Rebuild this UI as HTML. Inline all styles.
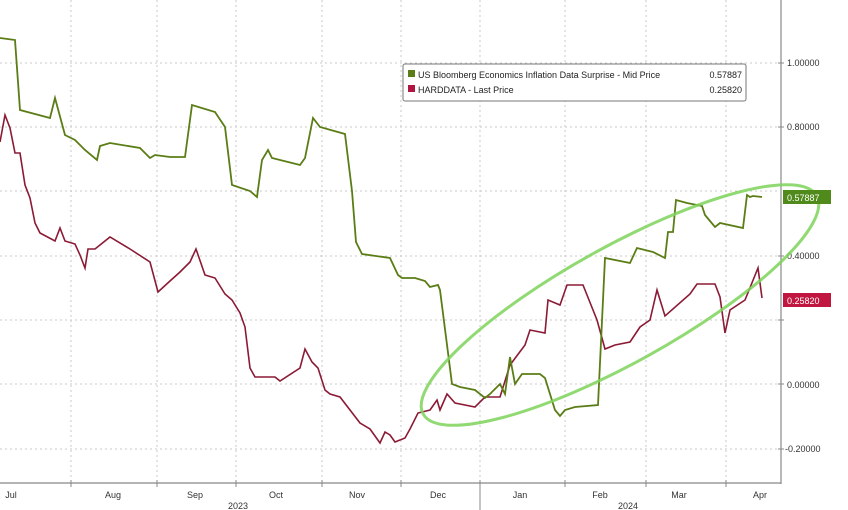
<!DOCTYPE html>
<html><head><meta charset="utf-8"><style>
html,body{margin:0;padding:0;background:#fff;}
svg{display:block;font-family:"Liberation Sans",sans-serif;}
</style></head><body>
<svg width="848" height="510" viewBox="0 0 848 510" xmlns="http://www.w3.org/2000/svg">
<rect width="848" height="510" fill="#fff"/>
<g stroke="#c8c8c8" stroke-width="1" stroke-dasharray="2,3">
<line x1="0" y1="63" x2="780" y2="63"/>
<line x1="0" y1="127" x2="780" y2="127"/>
<line x1="0" y1="191" x2="780" y2="191"/>
<line x1="0" y1="256" x2="780" y2="256"/>
<line x1="0" y1="320" x2="780" y2="320"/>
<line x1="0" y1="384" x2="780" y2="384"/>
<line x1="0" y1="449" x2="780" y2="449"/>
<line x1="71" y1="0" x2="71" y2="483"/><line x1="157" y1="0" x2="157" y2="483"/>
<line x1="236" y1="0" x2="236" y2="483"/><line x1="322" y1="0" x2="322" y2="483"/>
<line x1="401" y1="0" x2="401" y2="483"/><line x1="480" y1="0" x2="480" y2="483"/>
<line x1="565" y1="0" x2="565" y2="483"/><line x1="646" y1="0" x2="646" y2="483"/>
<line x1="726" y1="0" x2="726" y2="483"/>
</g>
<line x1="781" y1="0" x2="781" y2="484" stroke="#888" stroke-width="1.2"/>
<line x1="0" y1="483" x2="781" y2="483" stroke="#888" stroke-width="1.2"/>
<g stroke="#888" stroke-width="1">
<line x1="71" y1="480" x2="71" y2="487"/><line x1="157" y1="480" x2="157" y2="487"/>
<line x1="236" y1="480" x2="236" y2="487"/><line x1="322" y1="480" x2="322" y2="487"/>
<line x1="401" y1="480" x2="401" y2="487"/><line x1="480" y1="480" x2="480" y2="510"/>
<line x1="565" y1="480" x2="565" y2="487"/><line x1="646" y1="480" x2="646" y2="487"/>
<line x1="726" y1="480" x2="726" y2="487"/>
<line x1="778" y1="63" x2="784" y2="63"/><line x1="778" y1="127" x2="784" y2="127"/>
<line x1="778" y1="256" x2="784" y2="256"/><line x1="778" y1="320" x2="784" y2="320"/>
<line x1="778" y1="384" x2="784" y2="384"/><line x1="778" y1="449" x2="784" y2="449"/>
</g>
<g font-size="9" fill="#333">
<text x="787" y="66">1.00000</text><text x="787" y="130">0.80000</text>
<text x="787" y="259">0.40000</text><text x="787" y="388">0.00000</text>
<text x="785" y="452">-0.20000</text>
</g>
<g font-size="9" fill="#333" text-anchor="middle">
<text x="11" y="498">Jul</text><text x="113" y="498">Aug</text><text x="195" y="498">Sep</text>
<text x="276" y="498">Oct</text><text x="357" y="498">Nov</text><text x="438" y="498">Dec</text>
<text x="520" y="498">Jan</text><text x="600" y="498">Feb</text><text x="679" y="498">Mar</text>
<text x="760" y="498">Apr</text>
<text x="238" y="509">2023</text><text x="628" y="509">2024</text>
</g>
<polyline fill="none" stroke="#8b1a35" stroke-width="1.6" points="0,142 5,115 10,128 15,153 20,153 25,185 30,198 35,223 40,233 55,241 60,228 65,241 75,244 80,255 85,268 88,249 95,249 110,237 130,249 150,262 158,292 170,281 180,272 190,262 196,249 205,275 215,278 225,294 232,300 240,313 245,327 250,368 255,377 275,377 280,381 300,368 305,349 312,362 318,368 325,390 330,394 340,397 350,410 360,423 370,429 380,443 385,432 390,435 395,442 405,438 410,429 418,413 430,410 437,400 440,410 447,394 455,403 475,407 485,397 500,397 510,365 525,345 530,330 545,333 548,300 560,305 567,285 583,285 597,320 605,349 615,345 630,342 640,327 650,320 657,290 665,316 690,294 697,284 715,284 720,297 725,333 730,310 745,300 758,268 762,298"/>
<polyline fill="none" stroke="#5b7d16" stroke-width="1.8" points="0,38 15,40 20,110 50,118 55,98 65,135 75,140 85,150 97,160 100,146 110,143 140,148 150,158 155,155 170,157 185,157 192,105 215,112 225,127 232,185 250,191 257,197 262,160 268,150 272,158 300,165 305,158 313,118 320,127 345,134 352,191 356,242 362,254 390,258 398,275 402,278 415,278 425,281 430,287 438,285 440,290 452,384 460,387 475,390 485,398 490,394 500,384 505,394 510,357 515,384 522,374 540,374 545,378 555,410 560,416 565,410 575,407 598,405 605,258 630,263 637,248 653,252 665,258 668,232 673,232 676,200 687,203 702,206 705,215 715,227 720,223 743,228 747,195 750,197 753,196 762,197"/>
<ellipse cx="620" cy="305" rx="225" ry="58" transform="rotate(-29 620 305)" fill="none" stroke="#7ed35a" stroke-width="3" opacity="0.85"/>
<rect x="403" y="64" width="343" height="37" fill="#fff" stroke="#777" stroke-width="1" rx="2"/>
<rect x="408" y="70" width="7" height="7" fill="#5b7d16"/>
<rect x="408" y="85" width="7" height="7" fill="#b0163f"/>
<g font-size="9" fill="#222">
<text x="418" y="78">US Bloomberg Economics Inflation Data Surprise - Mid Price</text>
<text x="742" y="78" text-anchor="end">0.57887</text>
<text x="418" y="93">HARDDATA - Last Price</text>
<text x="742" y="93" text-anchor="end">0.25820</text>
</g>
<rect x="783" y="190" width="48" height="14" fill="#4f8a1a"/>
<text x="787" y="201" font-size="9" fill="#fff">0.57887</text>
<rect x="783" y="293" width="48" height="14" fill="#c0163f"/>
<text x="787" y="304" font-size="9" fill="#fff">0.25820</text>
</svg>
</body></html>
